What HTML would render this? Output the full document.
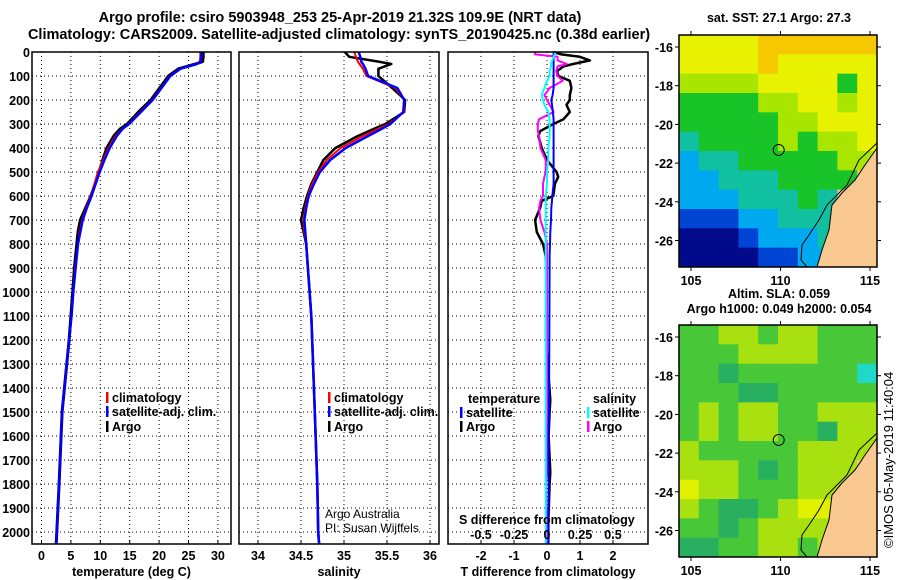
<!DOCTYPE html>
<html><head><meta charset="utf-8">
<style>
html,body{margin:0;padding:0;background:#fff;}
svg{display:block;font-family:"Liberation Sans",Arial,sans-serif;}
.t{font-weight:bold;font-size:14.5px;fill:#000;}
.ax{font-weight:bold;font-size:12.5px;fill:#000;}
</style></head>
<body>
<svg id="fig" width="900" height="580" viewBox="0 0 900 580" xmlns="http://www.w3.org/2000/svg">
<text x="340" y="22" text-anchor="middle" class="t">Argo profile: csiro 5903948_253 25-Apr-2019 21.32S 109.9E (NRT data)</text>
<text x="339" y="39" text-anchor="middle" class="t">Climatology: CARS2009. Satellite-adjusted climatology: synTS_20190425.nc (0.38d earlier)</text>
<g id="p1"></g>
<g id="p2"></g>
<g id="p3"></g>
<g id="m1"></g>
<g id="m2"></g>
<text transform="translate(893,548) rotate(-90)" font-size="13">©IMOS 05-May-2019 11:40:04</text>
</svg>
<script>
// ---- data ----
const depthTicks=[0,100,200,300,400,500,600,700,800,900,1000,1100,1200,1300,1400,1500,1600,1700,1800,1900,2000];
const tempTicks=[0,5,10,15,20,25,30];
const salTicks=[34,34.5,35,35.5,36];
const salTickLabels=["34","34.5","35","35.5","36"];
const tdTicks=[-2,-1,0,1,2];
const sdTicks=[-0.5,-0.25,0,0.25,0.5];
const sdTickLabels=["-0.5","-0.25","0","0.25","0.5"];

const depths=[0,20,40,50,70,100,150,200,250,300,320,350,400,450,500,550,600,650,700,750,800,900,1000,1100,1200,1500,1800,2000,2050];
const tempArgo=[27.5,27.5,27.4,26.2,23.3,21.6,20.1,18.6,16.5,14.6,13.4,12.3,11.1,10.4,9.8,9.1,8.4,7.5,6.6,6.2,6.0,5.6,5.3,5.0,4.7,3.5,3.0,2.6,2.5];
const tempClim=[27.0,27.0,26.9,26.3,23.6,21.9,20.3,18.8,16.8,14.8,13.7,12.6,11.4,10.5,9.6,9.0,8.4,7.6,6.9,6.5,6.2,5.7,5.4,5.1,4.7,3.5,3.0,2.6,2.5];
const tempSat=[27.2,27.2,27.1,26.4,23.6,21.9,20.4,18.9,16.9,14.9,13.8,12.8,11.6,10.7,9.9,9.2,8.5,7.7,7.0,6.6,6.2,5.8,5.4,5.1,4.7,3.5,3.0,2.6,2.5];
const salArgo=[35.01,35.06,35.40,35.55,35.40,35.40,35.56,35.71,35.70,35.48,35.35,35.16,34.90,34.76,34.69,34.62,34.57,34.53,34.50,34.53,34.56,34.58,34.60,34.62,34.63,34.66,34.69,34.70,34.71];
const salClim=[35.12,35.14,35.16,35.18,35.22,35.26,35.60,35.70,35.70,35.52,35.40,35.22,34.96,34.80,34.70,34.63,34.58,34.55,34.53,34.54,34.56,34.58,34.60,34.62,34.63,34.66,34.69,34.70,34.71];
const salSat=[35.17,35.19,35.20,35.22,35.25,35.28,35.62,35.70,35.69,35.54,35.44,35.28,35.02,34.84,34.72,34.65,34.59,34.56,34.54,34.55,34.56,34.58,34.60,34.62,34.63,34.66,34.69,34.70,34.71];

const diffDepths=[0,10,20,35,50,60,80,100,120,150,180,200,220,250,280,300,330,350,400,450,500,520,550,600,620,650,700,750,800,850,900,1200,1450,1500,1600,1750,1800,2000,2050];
const tdArgo=[0.19,0.44,0.99,1.3,0.79,0.5,0.3,0.35,0.69,0.74,0.69,0.69,0.59,0.69,0.5,0.19,-0.21,-0.26,-0.16,0.0,0.29,0.34,0.24,0.19,-0.16,-0.21,-0.36,-0.31,-0.12,-0.04,-0.02,-0.03,0.1,0.08,0.05,0.1,0.08,0.03,0.03];
const sdArgo=[-0.09,-0.09,0.08,0.08,0.15,0.08,0.07,0.08,0.12,0.02,-0.02,0.0,0.02,0.05,-0.06,-0.07,-0.07,-0.06,-0.05,-0.01,-0.01,-0.02,-0.03,-0.03,-0.05,-0.06,-0.05,-0.02,0.0,0.0,0.0,0.0,0.0,0.0,0.0,0.0,-0.01,0.0,0.0];
const tdSat=[0.2,0.2,0.2,0.2,0.2,0.2,0.2,0.2,0.2,0.2,0.17,0.13,0.15,0.18,0.2,0.2,0.2,0.2,0.2,0.2,0.2,0.2,0.2,0.16,0.15,0.13,0.12,0.1,0.09,0.08,0.08,0.07,0.06,0.06,0.05,0.05,0.05,0.05,0.05];
const sdSat=[0.06,0.06,0.05,0.04,0.03,0.03,0.02,0.02,0.0,-0.02,-0.04,-0.03,-0.02,0.01,0.02,0.02,0.02,0.02,0.01,0.01,0.0,0.0,0.0,-0.01,-0.01,-0.01,-0.01,-0.01,-0.01,-0.01,-0.01,-0.01,-0.01,-0.01,-0.01,-0.01,-0.01,-0.01,-0.01];

// SST map grid (0 navy .. 7 orange, -1 land)
const sstGrid=[
[6,6,6,6,7,7,7,7,7,7],
[6,6,6,6,7,6,6,6,6,6],
[5,5,5,5,6,6,6,6,4,6],
[4,4,4,4,5,5,6,6,5,6],
[4,4,4,4,4,5,5,6,6,6],
[3,4,4,4,4,5,4,5,5,6],
[2,3,3,4,4,4,4,4,5,5],
[2,2,3,3,3,4,4,4,4,-1],
[2,2,2,3,3,3,4,3,-1,-1],
[1,1,1,2,2,3,3,3,1,-1],
[0,0,0,1,2,2,2,3,0,-1],
[0,0,0,0,1,1,2,2,0,-1]];
const slaGrid=[
[4,4,5,5,4,5,5,4,4,4],
[4,4,4,5,5,5,5,4,4,4],
[4,4,3,4,4,4,4,4,4,7],
[4,4,4,3,3,4,4,4,4,4],
[4,5,4,5,5,4,4,5,5,5],
[4,5,4,5,5,4,4,3,5,5],
[5,4,4,4,4,4,5,5,5,5],
[5,5,5,4,3,4,5,5,5,-1],
[6,5,5,4,4,4,5,5,5,-1],
[5,4,3,3,4,5,6,6,5,-1],
[4,4,3,4,5,5,5,5,4,-1],
[3,3,4,4,5,5,4,5,4,-1]];
const sstColors=["#000a8a","#0044d4","#00a8f0","#10c0a0","#18c428","#a8e600","#e8f200","#f6c800"];
const slaColors=["#000a8a","#0044d4","#00a8f0","#28b060","#48c838","#a8e010","#e0f000","#20d8c8"];
const floatLon=109.9, floatLat=-21.32;
const lonTicks=[105,110,115];
const latTicks=[-16,-18,-20,-22,-24,-26];

// ---- helpers ----
const NS="http://www.w3.org/2000/svg";
function mk(parent,tag,attrs){const e=document.createElementNS(NS,tag);for(const k in attrs)e.setAttribute(k,attrs[k]);parent.appendChild(e);return e;}
const Y0=52,YS=0.24,YB=544;
const yD=d=>Y0+d*YS;

function panel(g,x0,x1,xfun,xticks,xlabels,title,gridXs){
  const bg=mk(g,'rect',{x:x0,y:Y0,width:x1-x0,height:YB-Y0,fill:'#fff',stroke:'none'});
  
  gridXs.forEach(v=>{const x=xfun(v);const l=mk(g,'line',{x1:x,x2:x,y1:Y0,y2:YB,stroke:'#000','stroke-width':1,'stroke-dasharray':'1 3'});
    });
  depthTicks.forEach(d=>{const y=yD(d);const l=mk(g,'line',{x1:x0,x2:x1,y1:y,y2:y,stroke:'#000','stroke-width':1,'stroke-dasharray':'1 3'});
    });
  xticks.forEach((v,i)=>{const x=xfun(v);
    mk(g,'line',{x1:x,x2:x,y1:YB,y2:YB-4,stroke:'#000'});
    const t=mk(g,'text',{x:x,y:YB+16,'text-anchor':'middle',class:'ax'});t.textContent=xlabels[i];
    });
  const tt=mk(g,'text',{x:(x0+x1)/2,y:576,'text-anchor':'middle',class:'ax'});tt.textContent=title;
  
}
function frame(g,x0,x1){const r=mk(g,'rect',{x:x0,y:Y0,width:x1-x0,height:YB-Y0,fill:'none',stroke:'#000','stroke-width':1.5});
  }
function line(g,xs,ds,xfun,color,w,name){
  const pts=xs.map((v,i)=>xfun(v).toFixed(1)+','+yD(ds[i]).toFixed(1)).join(' ');
  const p=mk(g,'polyline',{points:pts,fill:'none',stroke:color,'stroke-width':w,'stroke-linejoin':'round'});
  
}
function legend(g,x,y,color,label,name){
  mk(g,'rect',{x:x,y:y-10,width:2.5,height:11,fill:color});
  const t=mk(g,'text',{x:x+6,y:y,class:'ax'});t.textContent=label;
  
}

const fig=document.getElementById('fig');
depthTicks.forEach(d=>{const t=mk(fig,'text',{x:30,y:yD(d)+5,'text-anchor':'end',class:'ax'});t.textContent=d;
  });

// panel 1
const g1=document.getElementById('p1');
const xT=v=>41.5+5.88*v;
panel(g1,32,231,xT,tempTicks,tempTicks.map(String),'temperature (deg C)',tempTicks);
line(g1,tempArgo,depths,xT,'#000',3,'argo-temperature-line');
line(g1,tempClim,depths,xT,'#f00',2,'climatology-temperature-line');
line(g1,tempSat,depths,xT,'#00f',2.5,'satellite-temperature-line');
frame(g1,32,231);
legend(g1,106,402,'#f00','climatology','legend-climatology');
legend(g1,106,416,'#00f','satellite-adj. clim.','legend-satellite');
legend(g1,106,431,'#000','Argo','legend-argo');

// panel 2
const g2=document.getElementById('p2');
const xS=v=>258+86*(v-34);
panel(g2,239,439,xS,salTicks,salTickLabels,'salinity',salTicks);
line(g2,salArgo,depths,xS,'#000',2.5,'argo-salinity-line');
line(g2,salClim,depths,xS,'#f00',2,'climatology-salinity-line');
line(g2,salSat,depths,xS,'#00f',2.5,'satellite-salinity-line');
frame(g2,239,439);
legend(g2,328,402,'#f00','climatology','legend-climatology');
legend(g2,328,416,'#00f','satellite-adj. clim.','legend-satellite');
legend(g2,328,431,'#000','Argo','legend-argo');
[['Argo Australia',518],['PI: Susan Wijffels',532]].forEach(a=>{const t=mk(g2,'text',{x:325,y:a[1],'font-size':12});t.textContent=a[0];
  });

// panel 3
const g3=document.getElementById('p3');
const xTD=v=>547+33*v;
const xSD=v=>547+132*v;
panel(g3,448,648,xTD,tdTicks,tdTicks.map(String),'T difference from climatology',tdTicks);
line(g3,tdArgo,diffDepths,xTD,'#000',2.5,'argo-t-diff-line');
line(g3,sdArgo,diffDepths,xSD,'#f0f',2,'argo-s-diff-line');
line(g3,tdSat,diffDepths,xTD,'#00f',2,'satellite-t-diff-line');
line(g3,sdSat,diffDepths,xSD,'#0ff',2,'satellite-s-diff-line');
frame(g3,448,648);
{const t=mk(g3,'text',{x:468,y:403,class:'ax'});t.textContent='temperature';}
{const t=mk(g3,'text',{x:593,y:403,class:'ax'});t.textContent='salinity';}
legend(g3,460,417,'#00f','satellite','legend-t-satellite');
legend(g3,460,431,'#000','Argo','legend-t-argo');
legend(g3,587,417,'#0ff','satellite','legend-s-satellite');
legend(g3,587,431,'#f0f','Argo','legend-s-argo');
{const t=mk(g3,'text',{x:459,y:524,class:'ax'});t.textContent='S difference from climatology';}
sdTicks.forEach((v,i)=>{const t=mk(g3,'text',{x:xSD(v),y:539,'text-anchor':'middle',class:'ax'});t.textContent=sdTickLabels[i];
  });

// maps
function map(g,top,grid,colors,t1,t2){
  const L=679,R=877,H=232,B=top+H;
  const lonX=v=>691+(v-105)*17.9;
  const latY=v=>top+12+(-16-v)*19.35;
  const cw=(R-L)/grid[0].length, ch=H/grid.length;
  grid.forEach((row,r)=>row.forEach((v,c)=>{
    const cell=mk(g,'rect',{x:L+c*cw,y:top+r*ch,width:cw+0.5,height:ch+0.5,fill:v<0?'#f8c890':colors[v]});
    
  }));
  const land=mk(g,'polygon',{points:`${R},${top+113} ${R-12},${top+130} ${R-22},${top+145} ${R-35},${top+158} ${R-45},${top+170} ${R-48},${top+195} ${R-55},${top+215} ${R-60},${B} ${R},${B}`,fill:'#f8c890',stroke:'#000','stroke-width':1});
  
  const coast=mk(g,'polyline',{points:`${R},${top+108} ${R-18},${top+125} ${R-30},${top+150} ${R-50},${top+170} ${R-58},${top+185} ${R-68},${top+200} ${R-75},${top+210} ${R-76},${top+225} ${R-70},${B}`,fill:'none',stroke:'#000','stroke-width':1});
  
  const fr=mk(g,'rect',{x:L,y:top,width:R-L,height:H,fill:'none',stroke:'#000','stroke-width':1.5});
  
  const c=mk(g,'circle',{cx:lonX(floatLon),cy:latY(floatLat),r:5.5,fill:'none',stroke:'#000','stroke-width':1});
  
  lonTicks.forEach(v=>{const x=lonX(v);mk(g,'line',{x1:x,x2:x,y1:top,y2:top-4,stroke:'#000'});mk(g,'line',{x1:x,x2:x,y1:B,y2:B+4,stroke:'#000'});
    const t=mk(g,'text',{x:x,y:B+18,'text-anchor':'middle',class:'ax','font-size':13});t.textContent=v;
    });
  latTicks.forEach(v=>{const y=latY(v);mk(g,'line',{x1:R,x2:R+4,y1:y,y2:y,stroke:'#000'});mk(g,'line',{x1:L,x2:L-4,y1:y,y2:y,stroke:'#000'});
    const t=mk(g,'text',{x:673,y:y+5,'text-anchor':'end',class:'ax'});t.textContent=v;
    });
  const a=mk(g,'text',{x:779,y:top-(t2?27:13),'text-anchor':'middle',class:'ax'});a.textContent=t1;
  
  if(t2){const b=mk(g,'text',{x:779,y:top-12,'text-anchor':'middle',class:'ax'});b.textContent=t2;
    }
}
map(document.getElementById('m1'),35,sstGrid,sstColors,'sat. SST: 27.1 Argo: 27.3',null);
map(document.getElementById('m2'),325,slaGrid,slaColors,'Altim. SLA: 0.059','Argo h1000: 0.049 h2000: 0.054');
</script>
</body></html>
